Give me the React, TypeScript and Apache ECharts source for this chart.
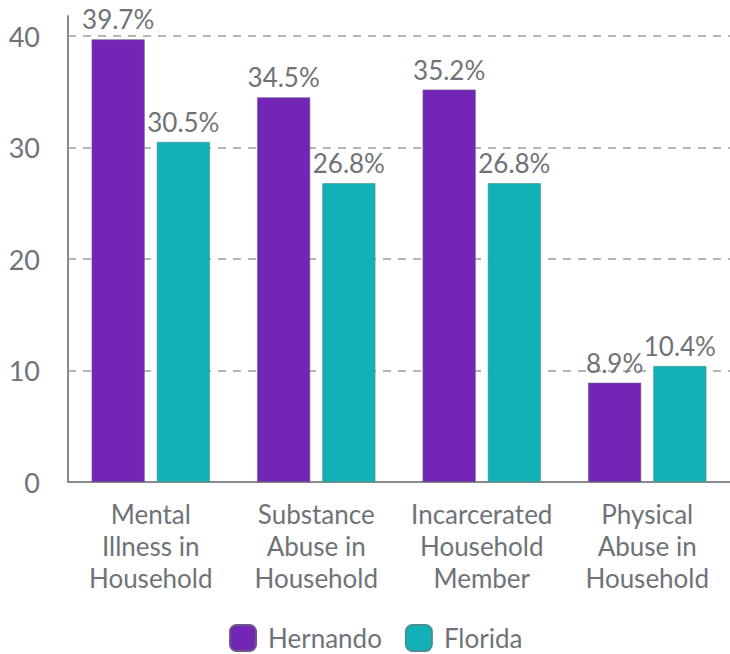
import React, { useEffect, useRef } from "react";
import * as echarts from "echarts";

const categories = [
  "Mental\nIllness in\nHousehold",
  "Substance\nAbuse in\nHousehold",
  "Incarcerated\nHousehold\nMember",
  "Physical\nAbuse in\nHousehold",
];
const hernando = [39.7, 34.5, 35.2, 8.9];
const florida = [30.5, 26.8, 26.8, 10.4];
const seriesNames = ["Hernando", "Florida"];

const TEXT = "#6f7378";
const FONT = "Lato, 'Noto Sans', sans-serif";

export default function App() {
  const ref = useRef<HTMLDivElement>(null);
  useEffect(() => {
    if (!ref.current) return;
    const chart = echarts.init(ref.current, undefined, { renderer: "svg" });
    const label = {
      show: true,
      position: "top",
      distance: 7,
      color: TEXT,
      fontSize: 26,
      fontFamily: FONT,
      formatter: (p: any) => p.value.toFixed(1) + "%",
    };
    chart.setOption({
      animation: false,
      textStyle: { fontFamily: FONT },
      grid: { left: 68, right: 0, top: 16, bottom: 172, containLabel: false },
      legend: {
        data: seriesNames,
        top: 624,
        padding: 0,
        left: 229,
        itemWidth: 26,
        itemHeight: 26,
        itemGap: 23,
        icon: "roundRect",
        textStyle: {
          color: TEXT,
          fontSize: 26,
          lineHeight: 28,
          fontFamily: FONT,
          padding: [0, 0, 0, 7],
        },
      },
      xAxis: {
        type: "category",
        data: categories,
        axisLine: { lineStyle: { color: "#8a8a8a", width: 2 } },
        axisTick: { show: false },
        axisLabel: {
          color: TEXT,
          fontSize: 26,
          fontFamily: FONT,
          lineHeight: 32,
          margin: 16,
          interval: 0,
        },
      },
      yAxis: {
        type: "value",
        min: 0,
        max: 41.8,
        interval: 10,
        axisLine: { show: true, lineStyle: { color: "#8a8a8a", width: 2 } },
        axisTick: { show: false },
        axisLabel: { color: TEXT, fontSize: 27, fontFamily: FONT, margin: 28, showMaxLabel: false },
        splitLine: {
          show: true,
          showMaxLine: false,
          lineStyle: { color: "#b5b5b5", type: [8, 7], width: 2 },
        },
      },
      series: [
        {
          name: seriesNames[0],
          type: "bar",
          data: hernando,
          barWidth: 53,
          barGap: "23%",
          itemStyle: { color: "#7326b6", borderColor: "#6a5a8a", borderWidth: 0.6 },
          label,
        },
        {
          name: seriesNames[1],
          type: "bar",
          data: florida,
          barWidth: 53,
          itemStyle: { color: "#12b1b8", borderColor: "#4a8e90", borderWidth: 0.6 },
          label,
        },
      ],
    });
    return () => chart.dispose();
  }, []);
  return <div ref={ref} style={{ width: 730, height: 654, position: "absolute", left: 0, top: 0 }} />;
}
